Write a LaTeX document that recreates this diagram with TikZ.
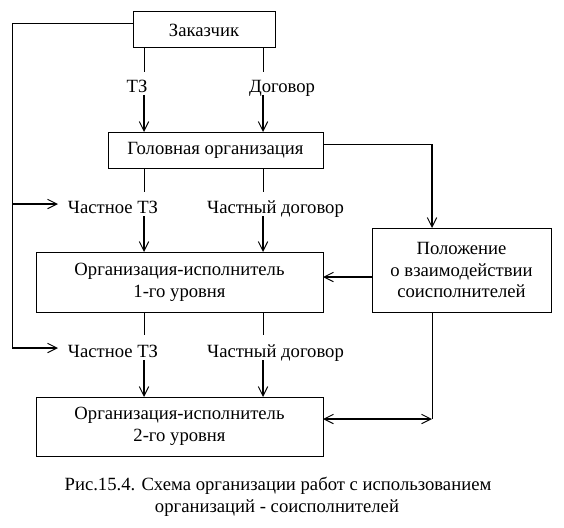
\documentclass[tikz,border=0pt]{standalone}
\usepackage{fontspec}
\setmainfont{Liberation Serif}
\usetikzlibrary{arrows.meta}
\begin{document}
\begin{tikzpicture}[x=0.75pt,y=-0.75pt,
  every node/.style={font=\fontsize{14}{16.5}\selectfont},
  box/.style={draw,line width=0.75pt,inner sep=0pt,outer sep=0pt,align=center},
  lbl/.style={inner sep=0pt,anchor=base},
  thinln/.style={line width=0.75pt},
  arr/.style={line width=1.5pt,-{Straight Barb[length=7pt,width=7pt,line width=0.75pt]}},
  darr/.style={line width=1.5pt,{Straight Barb[length=7pt,width=7pt,line width=0.75pt]}-{Straight Barb[length=7pt,width=7pt,line width=0.75pt]}}]
\useasboundingbox (0,0) rectangle (564,528);
% boxes
\node[box,minimum width=106.5pt,minimum height=27pt] (zak) at (204,30) {Заказчик};
\node[box,minimum width=161.25pt,minimum height=27pt] (golov) at (215.5,150) {Головная организация};
\node[box,minimum width=215.25pt,minimum height=45pt] (org1) at (179.5,282) {Организация-исполнитель\\1-го уровня};
\node[box,minimum width=215.25pt,minimum height=44.25pt] (org2) at (179.5,426.5) {Организация-исполнитель\\2-го уровня};
\node[box,minimum width=134.25pt,minimum height=63pt,font=\fontsize{14}{16}\selectfont] (pol) at (461.5,270) {Положение\\о взаимодействии\\соисполнителей};
% labels
\node[lbl] (tz) at (137,93) {ТЗ};
\node[lbl] (dog) at (282,93) {Договор};
\node[lbl] (ctz1) at (113,213) {Частное ТЗ};
\node[lbl] (cdog1) at (275.5,213) {Частный договор};
\node[lbl] (ctz2) at (113,357) {Частное ТЗ};
\node[lbl] (cdog2) at (275.5,357) {Частный договор};
% caption
\node[lbl] (cap1) at (278,490) {Рис.15.4. Схема организации работ с использованием};
\node[lbl] (cap2) at (277,512) {организаций - соисполнителей};
% helper coordinates
\coordinate (a1) at (144,72);  \coordinate (a2) at (144,95);
\coordinate (b1) at (263,72);  \coordinate (b2) at (263,95);
\coordinate (c1) at (144,192); \coordinate (c2) at (144,216);
\coordinate (d1) at (263,192); \coordinate (d2) at (263,216);
\coordinate (e1) at (144,335); \coordinate (e2) at (144,360);
\coordinate (f1) at (263,335); \coordinate (f2) at (263,360);
\coordinate (g0) at (323,144); \coordinate (g1) at (432,144);
\coordinate (h0) at (372,277); \coordinate (h1) at (323,277);
\coordinate (k0) at (432,312); \coordinate (k1) at (432,419); \coordinate (k2) at (323,419);
\coordinate (m0) at (133,24);  \coordinate (m1) at (12,24); \coordinate (m2) at (12,348);
\coordinate (n1) at (12,204);  \coordinate (n2) at (58,204);
\coordinate (p2) at (58,348);
% top to golov
\draw[thinln] (zak.south -| a1) -- (a1);
\draw[arr] (a2) -- (golov.north -| a2);
\draw[thinln] (zak.south -| b1) -- (b1);
\draw[arr] (b2) -- (golov.north -| b2);
% golov to org1
\draw[thinln] (golov.south -| c1) -- (c1);
\draw[arr] (c2) -- (org1.north -| c2);
\draw[thinln] (golov.south -| d1) -- (d1);
\draw[arr] (d2) -- (org1.north -| d2);
% org1 to org2
\draw[thinln] (org1.south -| e1) -- (e1);
\draw[arr] (e2) -- (org2.north -| e2);
\draw[thinln] (org1.south -| f1) -- (f1);
\draw[arr] (f2) -- (org2.north -| f2);
% right side
\draw[thinln] (g0) -- (g1);
\draw[arr] (g1) -- (pol.north -| g1);
\draw[arr] (h0) -- (h1);
\draw[thinln] (pol.south -| k0) -- (k1);
\draw[darr] (k2) -- (k1);
% left loop
\draw[thinln] (m0) -- (m1) -- (m2);
\draw[arr] (n1) -- (n2);
\draw[arr] (m2) -- (p2);
\end{tikzpicture}
\end{document}
